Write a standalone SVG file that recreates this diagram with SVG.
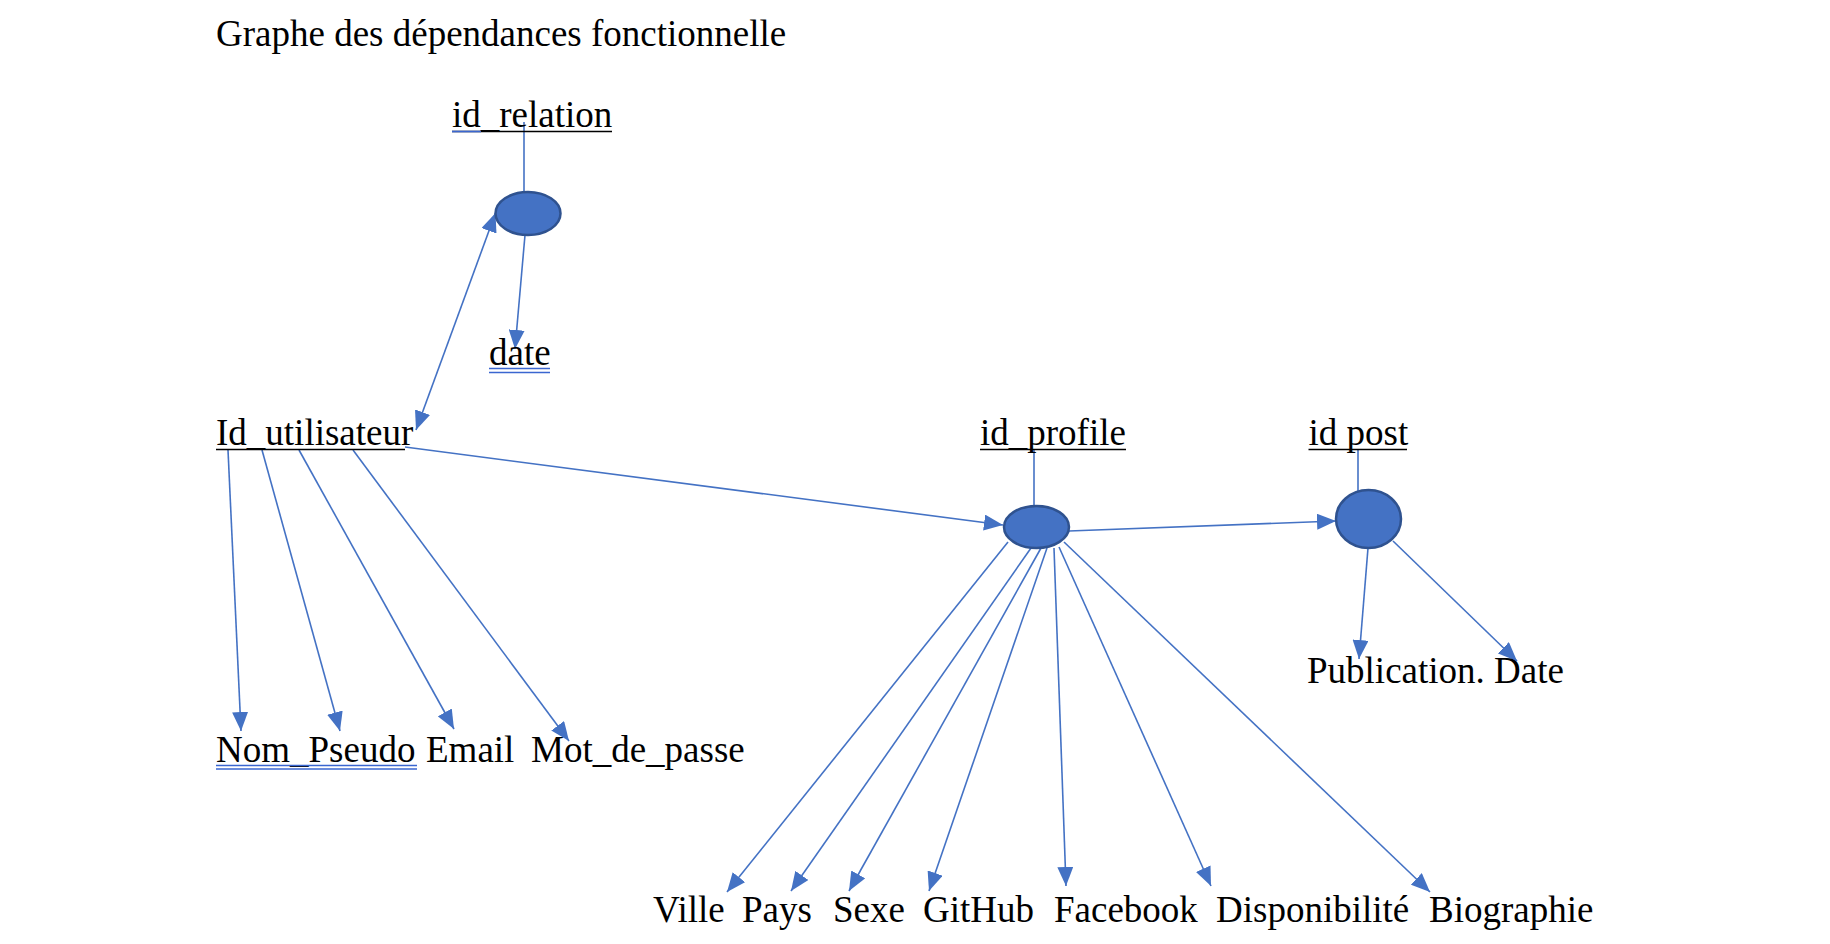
<svg xmlns="http://www.w3.org/2000/svg" width="1830" height="944" viewBox="0 0 1830 944">
<style>
text{font-family:"Liberation Serif","Times New Roman",serif;font-size:37px;fill:#000}
.c line{stroke:#4472C4;stroke-width:1.6;fill:none}
.a{marker-end:url(#ah)}
.dot{fill:#4472C4;stroke:#2F528F;stroke-width:2.5}
.ul{stroke:#000;stroke-width:1.6}
.bu{stroke:#3A66D0;stroke-width:1.6}
</style>
<defs>
<marker id="ah" markerUnits="userSpaceOnUse" markerWidth="20" markerHeight="16" refX="19" refY="8" orient="auto-start-reverse">
<path d="M0,0 L19,8 L0,16 z" fill="#4472C4"/>
</marker>
</defs>
<rect width="1830" height="944" fill="#fff"/>
<text id="title" x="216" y="46">Graphe des dépendances fonctionnelle</text>
<g class="c" id="connectors">
<line x1="524" y1="122" x2="524" y2="193"/>
<line class="a" x1="525" y1="235" x2="515" y2="349"/>
<line class="a" x1="416" y1="430" x2="495.5" y2="213" marker-start="url(#ah)"/>
<line class="a" x1="228" y1="450" x2="241" y2="731"/>
<line class="a" x1="262" y1="450" x2="340" y2="731"/>
<line class="a" x1="299" y1="450" x2="454" y2="729"/>
<line class="a" x1="353" y1="450" x2="569" y2="741"/>
<line class="a" x1="405" y1="447" x2="1003" y2="525"/>
<line x1="1034" y1="449" x2="1034" y2="507"/>
<line class="a" x1="1069" y1="531" x2="1336" y2="521"/>
<line x1="1358" y1="449" x2="1358" y2="492"/>
<line class="a" x1="1368" y1="548" x2="1359" y2="659"/>
<line class="a" x1="1393" y1="541" x2="1517" y2="661"/>
<line class="a" x1="1008" y1="542" x2="727" y2="892"/>
<line class="a" x1="1031" y1="548" x2="791" y2="891"/>
<line class="a" x1="1041" y1="548" x2="849" y2="891"/>
<line class="a" x1="1047" y1="548" x2="929" y2="891"/>
<line class="a" x1="1054" y1="548" x2="1066" y2="886"/>
<line class="a" x1="1059" y1="547" x2="1211" y2="886"/>
<line class="a" x1="1064" y1="542" x2="1430" y2="892"/>
</g>
<g id="n_id_relation">
<text x="452" y="127">id_relation</text>
<line class="ul" x1="452" y1="131.5" x2="612" y2="131.5"/>
<line class="bu" x1="452" y1="131.5" x2="481" y2="131.5" stroke-width="2"/>
</g>
<g id="n_rel_dot"><ellipse class="dot" cx="528" cy="213.5" rx="32.5" ry="21.5"/></g>
<g id="n_date">
<text x="489" y="365">date</text>
<line class="bu" x1="489" y1="368.5" x2="550" y2="368.5"/>
<line class="bu" x1="489" y1="372.5" x2="550" y2="372.5"/>
</g>
<g id="n_id_utilisateur">
<text x="216" y="445">Id_utilisateur</text>
<line class="ul" x1="216" y1="449.5" x2="405" y2="449.5"/>
</g>
<g id="n_nom_pseudo">
<text x="216" y="762">Nom_Pseudo</text>
<line class="bu" x1="216" y1="765.5" x2="417" y2="765.5"/>
<line class="bu" x1="216" y1="769" x2="417" y2="769"/>
</g>
<g id="n_email"><text x="426" y="762">Email</text></g>
<g id="n_mot_de_passe"><text x="531" y="762">Mot_de_passe</text></g>
<g id="n_id_profile">
<text x="980" y="445">id_profile</text>
<line class="ul" x1="980" y1="449.5" x2="1126" y2="449.5"/>
</g>
<g id="n_profile_dot"><ellipse class="dot" cx="1036.5" cy="527" rx="32.5" ry="21"/></g>
<g id="n_id_post">
<text x="1308.5" y="445">id post</text>
<line class="ul" x1="1308.5" y1="449.5" x2="1407" y2="449.5"/>
</g>
<g id="n_post_dot"><ellipse class="dot" cx="1368.5" cy="519" rx="32.5" ry="29"/></g>
<g id="n_publication_date"><text x="1307" y="683">Publication. Date</text></g>
<g id="n_ville"><text x="653" y="922">Ville</text></g>
<g id="n_pays"><text x="742" y="922">Pays</text></g>
<g id="n_sexe"><text x="833" y="922">Sexe</text></g>
<g id="n_github"><text x="923" y="922">GitHub</text></g>
<g id="n_facebook"><text x="1054" y="922">Facebook</text></g>
<g id="n_disponibilite"><text x="1216" y="922">Disponibilité</text></g>
<g id="n_biographie"><text x="1429" y="922">Biographie</text></g>
</svg>
